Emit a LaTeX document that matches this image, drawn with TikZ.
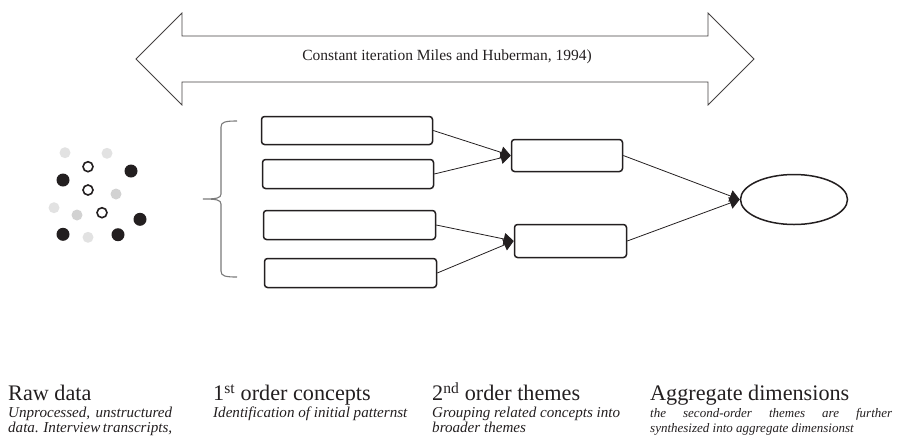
\documentclass[tikz,border=0pt]{standalone}
\usepackage{fontspec}
\setmainfont{Liberation Serif}
\usetikzlibrary{arrows.meta,shapes.geometric}
\definecolor{ink}{HTML}{231F20}
\definecolor{lightdot}{HTML}{E2E2E2}
\definecolor{middot}{HTML}{D2D2D2}
\definecolor{bracegray}{HTML}{7A7A7A}
\tikzset{
  box/.style={draw=ink, line width=1.5pt, rounded corners=3pt, inner sep=0pt},
  conn/.style={draw=ink, line width=0.8pt, -{Triangle[length=10pt,width=12pt]}},
  big/.style={anchor=base west, inner sep=0pt, text=ink, font=\fontsize{22.2}{26}\selectfont},
  small/.style={anchor=base west, inner sep=0pt, text=ink, font=\fontsize{15.1}{15}\selectfont\itshape},
  smaller/.style={anchor=base west, inner sep=0pt, text=ink, font=\fontsize{13}{15}\selectfont\itshape},
  blackdot/.style={fill=ink},
  opendot/.style={draw=ink, line width=1.6pt},
}
\begin{document}
\begin{tikzpicture}[x=1pt,y=-1pt]
\useasboundingbox (0,0) rectangle (901,440);
% big double arrow
\draw[draw=ink!85, line width=0.8pt] (136,59) -- (182,13) -- (182,36) -- (708,36) -- (708,13) -- (754,59) -- (708,105) -- (708,82) -- (182,82) -- (182,105) -- cycle;
\node[anchor=base, inner sep=0pt, text=ink, font=\fontsize{15.5}{17}\selectfont] (iter) at (447,60) {Constant iteration Miles and Huberman, 1994)};
% dots
\fill[lightdot] (65,152.7) circle (5.5) (107,153.3) circle (5.5) (54,207.7) circle (5.5) (88,237.3) circle (5.5);
\fill[middot] (116,194) circle (5.5) (77,215) circle (5.5);
\fill[blackdot] (131,171) circle (6.5) (63,180) circle (6.5) (140,219.3) circle (6.5) (63,234.3) circle (6.5) (118,234.7) circle (6.5);
\draw[opendot] (88,166.7) circle (5) (88,190) circle (5) (102,212.7) circle (5);
% brace
\draw[bracegray, line width=1.1pt] (237,121) .. controls (225,121) and (221,122) .. (221,127) -- (221,194) .. controls (221,198) and (217,199) .. (203,199) .. controls (217,199) and (221,200) .. (221,204) -- (221,271) .. controls (221,276) and (225,277) .. (237,277);
% boxes
\node[box, minimum width=171pt, minimum height=28pt] (b1) at (347,130.5) {};
\node[box, minimum width=171pt, minimum height=29pt] (b2) at (348,174) {};
\node[box, minimum width=172pt, minimum height=29pt] (b3) at (349.5,225) {};
\node[box, minimum width=172pt, minimum height=29pt] (b4) at (350.5,273) {};
\node[box, minimum width=111pt, minimum height=32pt] (b5) at (567,155.5) {};
\node[box, minimum width=112pt, minimum height=33pt] (b6) at (570.5,241) {};
\node[draw=ink, line width=1.5pt, ellipse, minimum width=107pt, minimum height=50pt, inner sep=0pt] (e) at (794,199.5) {};
% connectors
\draw[conn] (b1.east) -- (b5.west);
\draw[conn] (b2.east) -- (b5.west);
\draw[conn] (b3.east) -- (b6.west);
\draw[conn] (b4.east) -- (b6.west);
\draw[conn] (b5.east) -- (e.west);
\draw[conn] (b6.east) -- (e.west);
% bottom labels
\node[big] (t1) at (8,400.7) {Raw data};
\node[big] (t2) at (213,400.7) {1\textsuperscript{st} order concepts};
\node[big] (t3) at (432,400.7) {2\textsuperscript{nd} order themes};
\node[big] (t4) at (650,400.7) {Aggregate dimensions};
\node[small] (d1a) at (8,417) {\makebox[164pt][s]{Unprocessed, unstructured}};
\node[small] (d1b) at (8,432) {\makebox[163pt][s]{data. Interview transcripts,}};
\node[small] (d2a) at (213,417) {Identification of initial patternst};
\node[small] (d3a) at (432,417) {Grouping related concepts into};
\node[small] (d3b) at (432,432) {broader themes};
\node[smaller] (d4a) at (650,417) {\makebox[242pt][s]{the second-order themes are further}};
\node[smaller] (d4b) at (650,432) {synthesized into aggregate dimensionst};
\end{tikzpicture}
\end{document}
